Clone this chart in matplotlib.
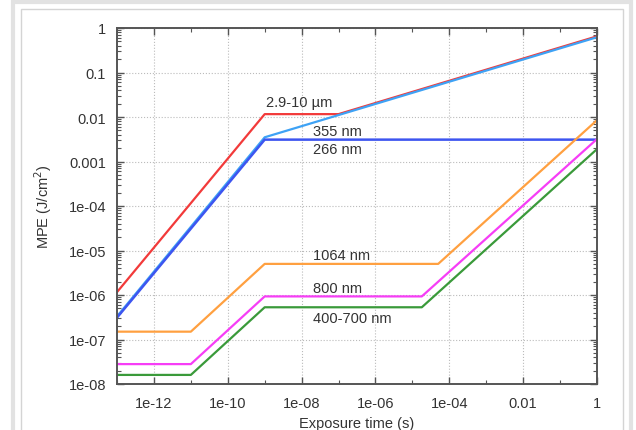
import matplotlib
matplotlib.use("Agg")
import matplotlib.pyplot as plt
from matplotlib.patches import Rectangle
from matplotlib.ticker import FixedLocator, LogLocator, NullFormatter

plt.rcParams['font.family'] = ['Liberation Sans', 'DejaVu Sans']

# MPE curves, exposure time (s) vs J/cm^2
t_red = [1e-13, 1e-9, 1e-7, 1]
mpe_red = [1.16e-6, 0.0116, 0.0116, 0.65]

t_355 = [1e-13, 1e-9, 1]
mpe_355 = [3.3e-7, 0.0035, 0.62]

t_266 = [1e-13, 1e-9, 1]
mpe_266 = [3.1e-7, 0.0031, 0.0031]

t_1064 = [1e-13, 1e-11, 1e-9, 5e-5, 1]
mpe_1064 = [1.5e-7, 1.5e-7, 5e-6, 5e-6, 0.0085]

t_800 = [1e-13, 1e-11, 1e-9, 1.8e-5, 1]
mpe_800 = [2.8e-8, 2.8e-8, 9.3e-7, 9.3e-7, 0.0032]

t_vis = [1e-13, 1e-11, 1e-9, 1.8e-5, 1]
mpe_vis = [1.6e-8, 1.6e-8, 5.3e-7, 5.3e-7, 0.0019]

labels = ["2.9-10 \u00b5m", "355 nm", "266 nm", "1064 nm", "800 nm", "400-700 nm"]
label_x = [1.1e-9, 2e-8, 2e-8, 2e-8, 2e-8, 2e-8]
label_y = [0.022, 0.0049, 0.0019, 8e-6, 1.45e-6, 3e-7]

x_major = [1e-12, 1e-10, 1e-8, 1e-6, 1e-4, 1e-2, 1]
x_major_labels = ["1e-12", "1e-10", "1e-08", "1e-06", "1e-04", "0.01", "1"]
x_minor = [1e-13, 1e-11, 1e-9, 1e-7, 1e-5, 1e-3, 1e-1]
y_major = [1e-8, 1e-7, 1e-6, 1e-5, 1e-4, 1e-3, 1e-2, 1e-1, 1]
y_major_labels = ["1e-08", "1e-07", "1e-06", "1e-05", "1e-04", "0.001", "0.01", "0.1", "1"]

fig = plt.figure(figsize=(6.36, 4.31), dpi=100)

# page frame like the reference thumbnail border
fig.patches.append(Rectangle((13 / 636, -0.1), 618 / 636, 1.1 - 2.5 / 431,
                             transform=fig.transFigure, fill=False,
                             edgecolor='#e2e2e2', linewidth=3))
fig.patches.append(Rectangle((21 / 636, -0.1), 602 / 636, 1.1 - 10 / 431,
                             transform=fig.transFigure, fill=False,
                             edgecolor='#d4d4d4', linewidth=1))

ax = fig.add_axes([117 / 636, 46 / 431, 480 / 636, 356 / 431])
ax.set_xscale('log')
ax.set_yscale('log')
ax.set_xlim(1e-13, 1)
ax.set_ylim(1e-8, 1)

ax.plot(t_red, mpe_red, color='#f23a3a', lw=1.6)
ax.plot(t_355, mpe_355, color='#3ea2f5', lw=1.6)
ax.plot(t_266, mpe_266, color='#3d55f0', lw=1.8)
ax.plot(t_1064, mpe_1064, color='#ffa040', lw=1.6)
ax.plot(t_800, mpe_800, color='#f63df6', lw=1.6)
ax.plot(t_vis, mpe_vis, color='#3a9a3a', lw=1.6)

for txt, lx, ly in zip(labels, label_x, label_y):
    ax.text(lx, ly, txt, fontsize=10.5, color='#333333', va='center', ha='left')

ax.xaxis.set_major_locator(FixedLocator(x_major))
ax.set_xticklabels(x_major_labels)
ax.xaxis.set_minor_locator(FixedLocator(x_minor))
ax.xaxis.set_minor_formatter(NullFormatter())
ax.yaxis.set_major_locator(FixedLocator(y_major))
ax.set_yticklabels(y_major_labels)
ax.yaxis.set_minor_locator(LogLocator(base=10, subs=range(2, 10)))
ax.yaxis.set_minor_formatter(NullFormatter())

ax.tick_params(which='both', direction='in', top=True, right=True,
               colors='#555555', labelcolor='#333333', labelsize=10.5)
ax.tick_params(which='major', length=5, width=1)
ax.tick_params(which='minor', length=3, width=0.8)
ax.tick_params(axis='x', pad=9)
ax.tick_params(axis='y', pad=8)

ax.grid(True, which='major', linestyle=':', color='#bbbbbb', linewidth=0.8)
for s in ax.spines.values():
    s.set_color('#555555')
    s.set_linewidth(1.4)

ax.set_xlabel("Exposure time (s)", fontsize=10.5, color='#333333', labelpad=4)
ax.set_ylabel("MPE (J/cm$^2$)", fontsize=10.5, color='#333333', labelpad=10)

fig.savefig("out.png", dpi=100)
